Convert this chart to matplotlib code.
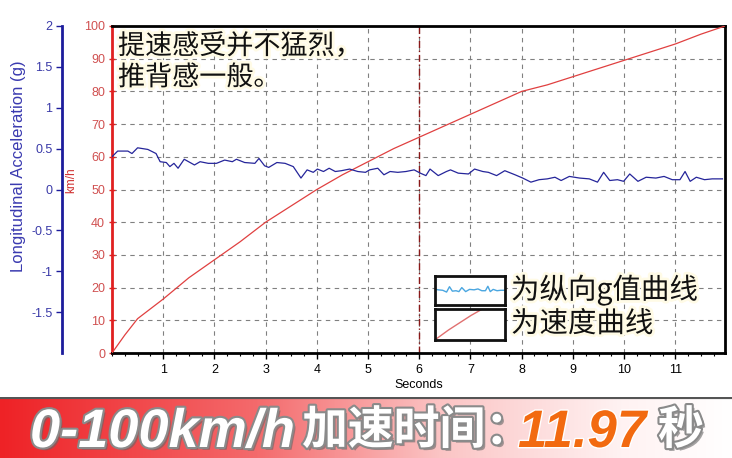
import matplotlib

matplotlib.use("Agg")

import matplotlib.pyplot as plt
import matplotlib.patheffects as pe
import numpy as np
from matplotlib.colors import LinearSegmentedColormap
from matplotlib.ticker import MultipleLocator

plt.rcParams["font.family"] = ["Liberation Sans", "DejaVu Sans"]

# speed curve (km/h) vs time (s)
speed_t = [0, 0.25, 0.5, 1, 1.5, 2, 2.5, 3, 3.5, 4, 4.5, 5, 5.5, 6, 6.5, 7, 7.5,
           8, 8.5, 9, 9.5, 10, 10.5, 11, 11.5, 11.97]
speed_kmh = [0, 5.5, 10.5, 16.5, 23, 28.5, 34, 40, 45, 50, 54.5, 58.5, 62.5, 66,
             69.5, 73, 76.5, 80, 82, 84.5, 87, 89.5, 92, 94.5, 97.5, 100]

# longitudinal acceleration (g) vs time (s)
acc_t = [0.00, 0.11, 0.31, 0.39, 0.50, 0.70, 0.86, 0.94, 1.06, 1.13, 1.21, 1.29,
         1.41, 1.61, 1.72, 1.88, 2.04, 2.20, 2.35, 2.43, 2.59, 2.79, 2.87, 2.98,
         3.06, 3.22, 3.38, 3.54, 3.69, 3.81, 3.93, 4.01, 4.13, 4.24, 4.36, 4.48,
         4.64, 4.80, 4.95, 5.03, 5.19, 5.31, 5.43, 5.58, 5.74, 5.90, 6.02, 6.13,
         6.21, 6.37, 6.53, 6.61, 6.76, 6.96, 7.08, 7.24, 7.35, 7.51, 7.67, 7.87,
         8.02, 8.18, 8.34, 8.50, 8.65, 8.77, 8.93, 9.13, 9.32, 9.48, 9.60, 9.72,
         9.87, 9.99, 10.11, 10.27, 10.43, 10.62, 10.78, 10.94, 11.09, 11.19,
         11.29, 11.41, 11.57, 11.72, 11.92]
acc_g = [0.40, 0.47, 0.47, 0.44, 0.51, 0.49, 0.44, 0.34, 0.33, 0.28, 0.32, 0.26,
         0.37, 0.30, 0.34, 0.32, 0.32, 0.36, 0.34, 0.37, 0.33, 0.32, 0.38, 0.29,
         0.27, 0.33, 0.32, 0.28, 0.14, 0.24, 0.21, 0.25, 0.22, 0.26, 0.22, 0.23,
         0.25, 0.22, 0.21, 0.24, 0.26, 0.18, 0.22, 0.21, 0.22, 0.24, 0.20, 0.17,
         0.25, 0.17, 0.22, 0.24, 0.20, 0.19, 0.25, 0.22, 0.21, 0.17, 0.23, 0.18,
         0.14, 0.09, 0.12, 0.13, 0.15, 0.11, 0.16, 0.14, 0.13, 0.09, 0.21, 0.11,
         0.12, 0.10, 0.19, 0.10, 0.15, 0.14, 0.16, 0.12, 0.12, 0.22, 0.10, 0.15,
         0.12, 0.13, 0.13]

speed_ticks = list(range(0, 101, 10))
acc_ticks = [-1.5, -1, -0.5, 0, 0.5, 1, 1.5, 2]
acc_tick_labels = ["-1.5", "-1", "-0.5", "0", "0.5", "1", "1.5", "2"]
time_ticks = list(range(1, 12))
marker_time = 6

note_text = "提速感受并不猛烈，\n推背感一般。"
legend_labels = ["为纵向g值曲线", "为速度曲线"]
banner_parts = ["0-100km/h", "加速时间：", "11.97", "秒"]

W, H = 732, 458
CJK = ["Noto Sans CJK SC", "DejaVu Sans"]
RED = "#e02020"
BLUE = "#1c1c9c"


def fx(px):
    return px / W


def fy(py):
    return 1 - py / H


fig = plt.figure(figsize=(W / 100, H / 100), dpi=100)

ax = fig.add_axes([fx(112), fy(353), fx(725) - fx(112), fy(26) - fy(353)])
ax.plot(speed_t, speed_kmh, color="#e04040", lw=0.9, zorder=3)
ax.axvline(marker_time, color="#8a1818", lw=1, ls=(0, (5, 2, 1, 2)), zorder=2)
ax.set_xlim(0, 11.97)
ax.set_ylim(0, 100)
ax.set_xticks(time_ticks)
ax.xaxis.set_minor_locator(MultipleLocator(0.25))
ax.set_yticks(speed_ticks)
ax.grid(True, color="#808080", lw=0.8, ls=(0, (4, 4)))
ax.tick_params(axis="x", labelsize=9, length=4, width=1, pad=4, colors="black")
ax.tick_params(axis="x", which="minor", length=2.5, width=0.8)
ax.tick_params(axis="y", labelsize=9, length=4, width=1, colors=RED,
               labelcolor="#d05050", direction="inout", pad=3)
ax.set_xlabel("Seconds", fontsize=9, labelpad=2)
ax.set_ylabel("km/h", fontsize=8.5, color="#d03030")
ax.yaxis.set_label_coords(-0.056, 0.53)
ax.spines["left"].set_color(RED)
ax.spines["left"].set_linewidth(2)
for side in ["top", "right", "bottom"]:
    ax.spines[side].set_color("black")
    ax.spines[side].set_linewidth(2)

ax2 = ax.twinx()
ax2.plot(acc_t, acc_g, color="#25259a", lw=0.9, zorder=3)
ax2.set_ylim(-2, 2)
ax2.set_yticks(acc_ticks)
ax2.set_yticklabels(acc_tick_labels)
ax2.yaxis.tick_left()
ax2.yaxis.set_label_position("left")
ax2.spines["left"].set_position(("axes", -50 / 613))
ax2.spines["left"].set_visible(True)
ax2.spines["left"].set_color(BLUE)
ax2.spines["left"].set_linewidth(2)
for side in ["top", "right", "bottom"]:
    ax2.spines[side].set_visible(False)
ax2.tick_params(axis="y", labelsize=9, length=4, width=1, colors=BLUE,
                labelcolor="#3a3aa8", pad=3)
ax2.set_ylabel("Longitudinal Acceleration (g)", fontsize=12, color="#3a3ab0")
ax2.yaxis.set_label_coords(-0.140, 0.57)

glow = [pe.withStroke(linewidth=4, foreground="#fffbe6")]
fig.text(fx(118), fy(33), note_text, family=CJK, fontsize=19.5, va="top", ha="left",
         color="#111111", linespacing=1.2, path_effects=glow, zorder=10)

# legend boxes with sample traces taken from the data
box1 = fig.add_axes([fx(435), fy(305), fx(505) - fx(435), fy(276) - fy(305)])
box1.plot(acc_t, acc_g, color="#4aa6e0", lw=1)
box1.set_xlim(9.0, 11.9)
box1.set_ylim(-0.2, 0.45)
box2 = fig.add_axes([fx(435), fy(340), fx(505) - fx(435), fy(309) - fy(340)])
box2.plot(speed_t, speed_kmh, color="#e07070", lw=1)
box2.set_xlim(3.9, 7.0)
box2.set_ylim(49, 66)
for b in (box1, box2):
    b.set_xticks([])
    b.set_yticks([])
    for s in b.spines.values():
        s.set_linewidth(2)
        s.set_color("#111111")

for label, cy in zip(legend_labels, [290, 324]):
    fig.text(fx(511), fy(cy), label, family=CJK, fontsize=20.5, va="center",
             ha="left", color="#111111", path_effects=glow, zorder=10)

# bottom banner
band = fig.add_axes([0, 0, 1, fy(397)])
cmap = LinearSegmentedColormap.from_list(
    "band", [(0, "#ee2226"), (0.35, "#f46a6c"), (0.6, "#fbc4c4"), (0.85, "#fff2f2"), (1, "#ffffff")])
band.imshow(np.linspace(0, 1, 256)[None, :], aspect="auto", cmap=cmap,
            extent=[0, 1, 0, 1])
band.axhline(1, color="#555555", lw=3)
band.set_xlim(0, 1)
band.set_ylim(0, 1)
band.axis("off")

outline = [pe.withSimplePatchShadow(offset=(2, -2), shadow_rgbFace="#666666", alpha=0.6),
           pe.withStroke(linewidth=3, foreground="#8a8a8a")]
base_y = fy(447)
cjk_y = fy(444)
fig.text(fx(30), base_y, banner_parts[0], family=["Liberation Sans", "Noto Sans CJK SC"],
         fontsize=39, weight="bold", style="italic", color="white", va="baseline",
         path_effects=outline)
fig.text(fx(302), cjk_y, banner_parts[1], family=["Noto Sans CJK SC", "DejaVu Sans"],
         fontsize=33, weight="bold", color="white", va="baseline", path_effects=outline)
fig.text(fx(518), base_y, banner_parts[2], family=["Liberation Sans", "DejaVu Sans"],
         fontsize=38, weight="bold", style="italic", color="#f26a10", va="baseline",
         path_effects=[pe.withStroke(linewidth=2, foreground="#ffffff")])
fig.text(fx(658), cjk_y, banner_parts[3], family=["Noto Sans CJK SC", "DejaVu Sans"],
         fontsize=33, weight="bold", color="white", va="baseline", path_effects=outline)

fig.savefig("out.png", dpi=100)
